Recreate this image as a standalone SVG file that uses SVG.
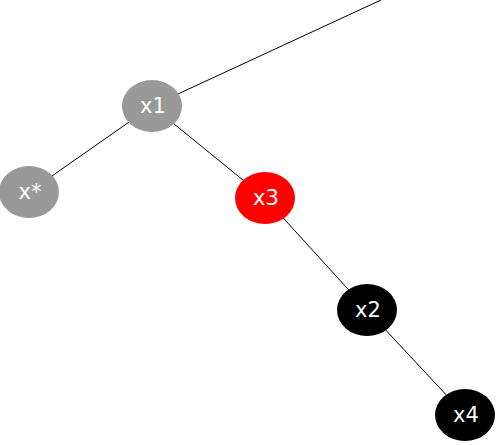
<svg xmlns="http://www.w3.org/2000/svg" width="496" height="445" viewBox="0 0 496 445">
<style>
.edge{stroke:#000;stroke-width:1;fill:none}
.lbl{font-family:"DejaVu Sans",Verdana,sans-serif;font-size:21px;fill:#fff;text-anchor:middle;dominant-baseline:central}
.gray{fill:#999}
.red{fill:#ff0000}
.black{fill:#000}
</style>
<rect width="496" height="445" fill="#fff"/>
<g id="connectors">
<line class="edge" x1="381" y1="0" x2="152" y2="106"/>
<line class="edge" x1="152" y1="106" x2="29" y2="192"/>
<line class="edge" x1="152" y1="106" x2="265" y2="198"/>
<line class="edge" x1="265" y1="198" x2="367" y2="310"/>
<line class="edge" x1="367" y1="310" x2="465" y2="415"/>
</g>
<g id="x1"><ellipse class="gray" cx="152" cy="106" rx="30" ry="26"/><text class="lbl" x="153" y="106">x1</text></g>
<g id="xstar"><ellipse class="gray" cx="29" cy="192" rx="30" ry="26"/><text class="lbl" x="30" y="192">x*</text></g>
<g id="x3"><ellipse class="red" cx="265" cy="198" rx="30" ry="26"/><text class="lbl" x="266" y="198">x3</text></g>
<g id="x2"><ellipse class="black" cx="367" cy="310" rx="30" ry="26"/><text class="lbl" x="368" y="310">x2</text></g>
<g id="x4"><ellipse class="black" cx="465" cy="415" rx="30" ry="26"/><text class="lbl" x="466" y="415">x4</text></g>
</svg>
